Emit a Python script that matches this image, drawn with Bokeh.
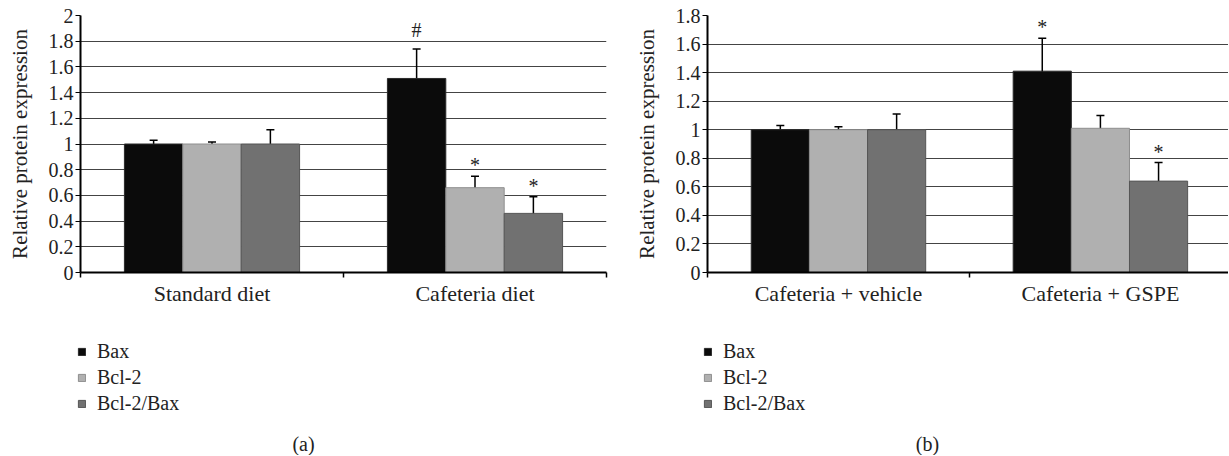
import numpy as np
from bokeh.plotting import figure
from bokeh.models import (Range1d, FixedTicker, Whisker, TeeHead, ColumnDataSource,
                          Legend, LegendItem, Label)
from bokeh.layouts import row, column
from bokeh.embed import file_html
from bokeh.resources import INLINE
from bokeh.core.properties import value

FONT = "Liberation Serif"
TXT = "#222222"

series = ["Bax", "Bcl-2", "Bcl-2/Bax"]
series_colors = ["#0b0b0b", "#b0b0b0", "#717171"]
series_lines = ["#2a2a2a", "#8e8e8e", "#555555"]

# Panel (a)
a_groups = ["Standard diet", "Cafeteria diet"]
a_bax = [1.00, 1.51]
a_bax_err = [0.03, 0.23]
a_bcl2 = [1.00, 0.66]
a_bcl2_err = [0.015, 0.09]
a_ratio = [1.00, 0.46]
a_ratio_err = [0.11, 0.13]
a_bax_marks = ["", "#"]
a_bcl2_marks = ["", "*"]
a_ratio_marks = ["", "*"]
a_yticks = [0, 0.2, 0.4, 0.6, 0.8, 1, 1.2, 1.4, 1.6, 1.8, 2]
a_ytick_labels = ["0", "0.2", "0.4", "0.6", "0.8", "1", "1.2", "1.4", "1.6", "1.8", "2"]

# Panel (b)
b_groups = ["Cafeteria + vehicle", "Cafeteria + GSPE"]
b_bax = [1.00, 1.41]
b_bax_err = [0.03, 0.23]
b_bcl2 = [1.00, 1.01]
b_bcl2_err = [0.02, 0.09]
b_ratio = [1.00, 0.64]
b_ratio_err = [0.11, 0.13]
b_bax_marks = ["", "*"]
b_bcl2_marks = ["", ""]
b_ratio_marks = ["", "*"]
b_yticks = [0, 0.2, 0.4, 0.6, 0.8, 1, 1.2, 1.4, 1.6, 1.8]
b_ytick_labels = ["0", "0.2", "0.4", "0.6", "0.8", "1", "1.2", "1.4", "1.6", "1.8"]

OFFSETS = [-0.222, 0.0, 0.222]
BAR_W = 0.222
MARK_SHIFT = {"#": -8, "*": 0, "": 0}


def make_panel(groups, vals, errs, marks, yticks, ylabels, ymax, xend,
               width, border_left, border_right):
    p = figure(width=width, height=320, output_backend="svg", toolbar_location=None,
               x_range=Range1d(0, xend), y_range=Range1d(0, ymax),
               min_border_left=border_left, min_border_right=border_right,
               min_border_top=15, min_border_bottom=48)
    p.outline_line_color = None
    p.background_fill_color = "white"

    centers = [i + 0.5 for i in range(len(groups))]
    for k, name in enumerate(series):
        xs = [c + OFFSETS[k] for c in centers]
        src = ColumnDataSource(dict(x=xs, top=vals[k],
                                    upper=[v + e for v, e in zip(vals[k], errs[k])],
                                    lower=[v - e for v, e in zip(vals[k], errs[k])],
                                    mark=marks[k],
                                    shift=[MARK_SHIFT[m] for m in marks[k]]))
        p.vbar(x="x", top="top", bottom=0, width=BAR_W, source=src,
               fill_color=series_colors[k], line_color=series_lines[k], line_width=1)
        w = Whisker(base="x", upper="upper", lower="lower", source=src,
                    line_color="black", line_width=1.5,
                    upper_head=TeeHead(size=8, line_color="black", line_width=1.5),
                    lower_head=TeeHead(size=8, line_color="black", line_width=1.5))
        p.add_layout(w)
        p.text(x="x", y="upper", text="mark", source=src, text_align="center",
               text_baseline="bottom", y_offset="shift",
               text_font=value(FONT), text_font_size="20px", text_color=TXT)

    ya = p.yaxis[0]
    ya.ticker = FixedTicker(ticks=yticks)
    ya.major_label_overrides = {t: s for t, s in zip(yticks, ylabels)}
    ya.axis_label = "Relative protein expression"
    ya.axis_label_text_font = FONT
    ya.axis_label_text_font_size = "21px"
    ya.axis_label_text_font_style = "normal"
    ya.axis_label_text_color = TXT
    ya.axis_label_standoff = 14
    ya.major_label_text_font = FONT
    ya.major_label_text_font_size = "20px"
    ya.major_label_text_color = TXT
    ya.major_label_standoff = 2
    ya.axis_line_width = 2
    ya.axis_line_color = "black"
    ya.major_tick_in = 0
    ya.major_tick_out = 5
    ya.major_tick_line_color = "black"
    ya.minor_tick_line_color = None

    xa = p.xaxis[0]
    xa.ticker = FixedTicker(ticks=centers, minor_ticks=list(range(len(groups) + 1)))
    xa.major_label_overrides = {c: g for c, g in zip(centers, groups)}
    xa.major_label_text_font = FONT
    xa.major_label_text_font_size = "22px"
    xa.major_label_text_color = TXT
    xa.major_label_standoff = 3
    xa.axis_line_width = 2
    xa.axis_line_color = "black"
    xa.major_tick_line_color = None
    xa.major_tick_out = 5
    xa.major_tick_in = 0
    xa.minor_tick_out = 5
    xa.minor_tick_in = 0
    xa.minor_tick_line_color = "black"
    xa.minor_tick_line_width = 1.5

    p.xgrid.grid_line_color = None
    p.ygrid.grid_line_color = "#444444"
    p.ygrid.grid_line_width = 1
    p.ygrid.ticker = FixedTicker(ticks=yticks)
    return p


def make_key(width, border_left, caption, cap_x):
    k = figure(width=width, height=135, output_backend="svg", toolbar_location=None,
               x_range=Range1d(0, 1), y_range=Range1d(0, 1),
               x_axis_type=None, y_axis_type=None,
               min_border_left=border_left, min_border_right=0,
               min_border_top=0, min_border_bottom=0)
    k.outline_line_color = None
    items = []
    for name, fc, lc in zip(series, series_colors, series_lines):
        # legend proxy: one undefined (NaN) datum, so nothing is drawn in the key area
        r = k.vbar(x=np.array([np.nan]), top=np.array([np.nan]), width=0.1,
                   fill_color=fc, line_color=lc)
        items.append(LegendItem(label=name, renderers=[r]))
    legend = Legend(items=items, location="top_left", orientation="vertical",
                    border_line_color=None, background_fill_alpha=0,
                    margin=20, padding=0, spacing=3, label_height=20,
                    glyph_width=9, glyph_height=9, label_standoff=11,
                    label_text_font=FONT, label_text_font_size="20px",
                    label_text_color=TXT)
    k.add_layout(legend)
    k.add_layout(Label(x=cap_x, y=12, x_units="screen", y_units="screen",
                       text=caption, text_align="center", text_baseline="middle",
                       text_font=FONT, text_font_size="20px", text_color=TXT))
    return k


pa = make_panel(a_groups, [a_bax, a_bcl2, a_ratio], [a_bax_err, a_bcl2_err, a_ratio_err],
                [a_bax_marks, a_bcl2_marks, a_ratio_marks], a_yticks, a_ytick_labels,
                2.0, 2.0, 620, 80, 14)
pb = make_panel(b_groups, [b_bax, b_bcl2, b_ratio], [b_bax_err, b_bcl2_err, b_ratio_err],
                [b_bax_marks, b_bcl2_marks, b_ratio_marks], b_yticks, b_ytick_labels,
                1.8, 1.989, 608, 87, 0)
ka = make_key(620, 57, "(a)", 246)
kb = make_key(608, 63, "(b)", 244)

layout = column(row(pa, pb), row(ka, kb))
open("out.html", "w").write(file_html(layout, INLINE))
